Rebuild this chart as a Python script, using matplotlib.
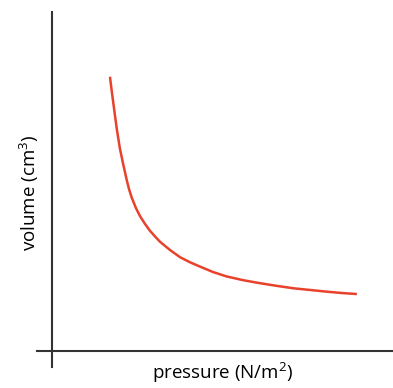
import matplotlib.pyplot as plt

plt.rcParams['font.family'] = ['Open Sans', 'DejaVu Sans']
plt.rcParams['mathtext.fontset'] = 'custom'
plt.rcParams['mathtext.rm'] = 'Open Sans'
plt.rcParams['mathtext.it'] = 'Open Sans'

# values (arbitrary units, axes run 0..10)
pressure = [1.70, 1.75, 1.80, 1.85, 1.90, 1.99, 2.09, 2.19, 2.26, 2.34, 2.46, 2.58,
            2.72, 2.87, 3.02, 3.17, 3.46, 3.75, 4.04, 4.34, 4.72, 5.12, 5.60,
            6.10, 6.60, 7.08, 7.57, 8.06, 8.50, 8.94]
volume = [8.09, 7.68, 7.30, 6.92, 6.55, 5.98, 5.50, 5.05, 4.77, 4.52, 4.22, 3.98,
          3.76, 3.55, 3.38, 3.22, 2.98, 2.77, 2.62, 2.49, 2.33, 2.20, 2.09,
          2.00, 1.92, 1.85, 1.80, 1.75, 1.71, 1.68]

x_label = r'pressure (N/m$^2$)'
y_label = r'volume (cm$^3$)'


def main():
    fig = plt.figure(figsize=(3.93, 3.88), dpi=100)
    ax = fig.add_axes([52 / 393, 37 / 388, 341 / 393, 339 / 388])

    ax.plot(pressure, volume, color='#e8412c', lw=1.8, solid_capstyle='butt',
            solid_joinstyle='round')

    ax.set_xlim(0, 10)
    ax.set_ylim(0, 10)
    ax.set_xticks([])
    ax.set_yticks([])
    for side in ['top', 'right', 'left', 'bottom']:
        ax.spines[side].set_visible(False)

    # axes lines, crossing a little past the origin
    ax.plot([-15 / 341, 1], [0, 0], transform=ax.transAxes, color='#333333', lw=1.5, clip_on=False)
    ax.plot([0, 0], [-16 / 339, 1], transform=ax.transAxes, color='#333333', lw=1.5, clip_on=False)

    ax.set_xlabel(x_label, fontsize=13.5)
    ax.set_ylabel(y_label, fontsize=13.5)
    ax.xaxis.set_label_coords(0.5, -0.03, transform=ax.transAxes)
    ax.yaxis.set_label_coords(-0.032, 0.466, transform=ax.transAxes)
    ax.xaxis.label.set_va('top')
    ax.yaxis.label.set_va('bottom')

    fig.savefig('out.png', dpi=100)


if __name__ == "__main__":
    main()
